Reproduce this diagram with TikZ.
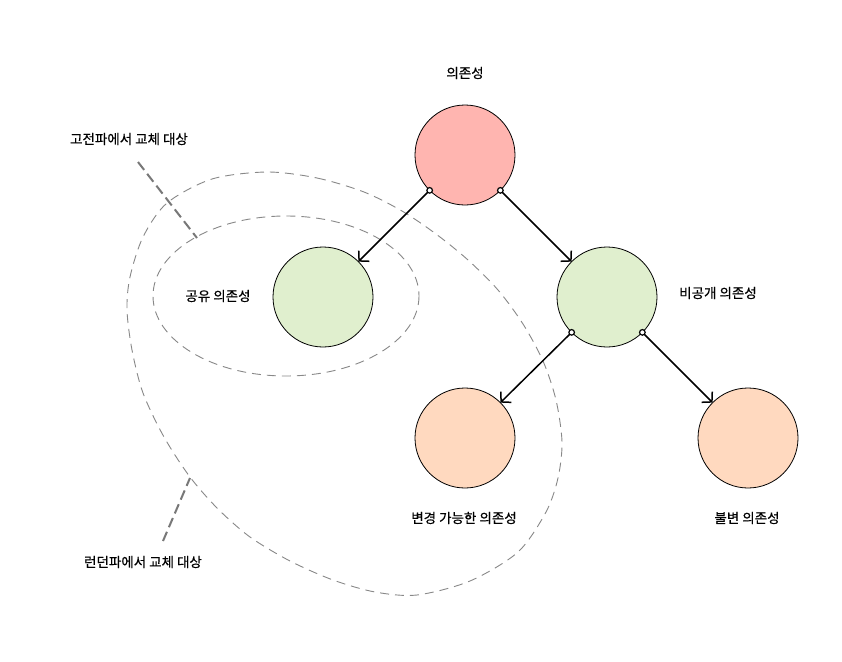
\documentclass[tikz,border=0pt]{standalone}
\usepackage{fontspec}
\setmainfont{Noto Sans CJK KR}
\usetikzlibrary{arrows.meta}
\definecolor{cred}{RGB}{255,181,176}
\definecolor{cgreen}{RGB}{224,239,206}
\definecolor{cpeach}{RGB}{255,217,191}
\definecolor{dgray}{RGB}{136,136,136}
\definecolor{lgray}{RGB}{120,120,120}
\tikzset{
  dep/.style={circle, draw=black, line width=0.8pt, minimum size=100pt, inner sep=0pt, outer sep=0pt},
  lbl/.style={font=\fontsize{13.5}{15}\selectfont\addfontfeatures{FakeBold=0.5}, inner sep=0pt},
  conn/.style={line width=1.5pt, -{Straight Barb[length=7pt,width=15pt,line width=1.5pt]}},
  startdot/.style={draw=black, fill=white, line width=1.2pt},
  region/.style={draw=dgray, line width=0.9pt, dash pattern=on 9pt off 6pt},
  leader/.style={draw=lgray, line width=2pt, dash pattern=on 10pt off 5pt}
}
\begin{document}
\begin{tikzpicture}[x=1pt,y=-1pt]
\useasboundingbox[fill=white] (0,0) rectangle (842,661);

% regions
\draw[region] (286,296) ellipse [x radius=133, y radius=80];
\draw[region] plot[smooth cycle, tension=0.5] coordinates {
  (267,172) (317,178) (364,192) (402,211) (436,234) (468,260) (498,290)
  (523,324) (543,361) (556,400) (562,442) (558,478) (546,512) (518,552)
  (470,581) (417,595) (375,592) (333,580) (290,561) (250,537) (218,509)
  (190,477) (164,437) (143,393) (132,350) (127,310) (130,277) (143,237)
  (167,203) (212,179)};

% leader lines
\coordinate (c1) at (138,162);
\coordinate (c2) at (197,238);
\coordinate (l1) at (163,541);
\coordinate (l2) at (190,478);
\draw[leader] (c1) -- (c2);
\draw[leader] (l1) -- (l2);

% nodes
\node[dep, fill=cred] (top) at (465,155) {};
\node[dep, fill=cgreen] (shared) at (323,297) {};
\node[dep, fill=cgreen] (private) at (607,297) {};
\node[dep, fill=cpeach] (mutable) at (465,438) {};
\node[dep, fill=cpeach] (immutable) at (748,438) {};

% connectors
\draw[conn] (top.south west) -- (shared.north east);
\draw[conn] (top.south east) -- (private.north west);
\draw[conn] (private.south west) -- (mutable.north east);
\draw[conn] (private.south east) -- (immutable.north west);
\foreach \p in {top.south west, top.south east, private.south west, private.south east}
  \draw[startdot] (\p) circle (2.8pt);

% labels
\node[lbl] (t1) at (465,73) {의존성};
\node[lbl] (t2) at (218,296) {공유 의존성};
\node[lbl] (t3) at (718,293) {비공개 의존성};
\node[lbl] (t4) at (464,518) {변경 가능한 의존성};
\node[lbl] (t5) at (747,518) {불변 의존성};
\node[lbl] (t6) at (129,139) {고전파에서 교체 대상};
\node[lbl] (t7) at (143,562) {런던파에서 교체 대상};
\end{tikzpicture}
\end{document}
